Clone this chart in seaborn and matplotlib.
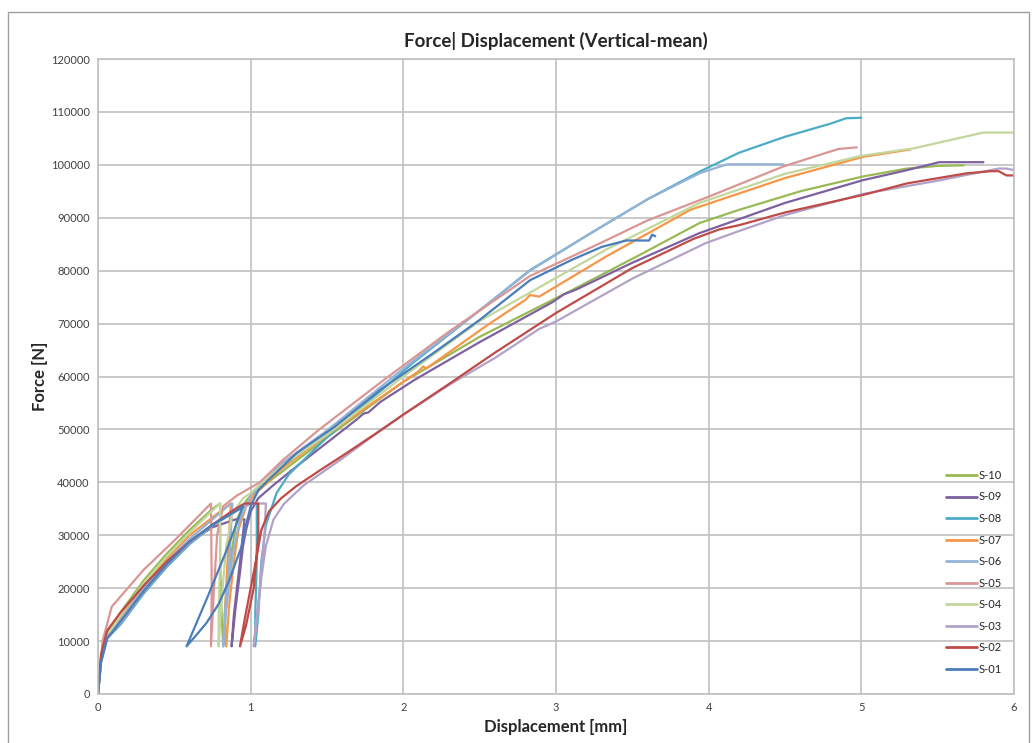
import matplotlib
matplotlib.use("Agg")
import matplotlib.pyplot as plt
import seaborn as sns
import pandas as pd
from matplotlib.patches import Rectangle

# ---- data (displacement mm, force N) ----
s01_x = [0, 0.02, 0.06, 0.15, 0.3, 0.45, 0.6, 0.75, 0.9, 0.95,
         0.84, 0.72, 0.58,
         0.64, 0.71, 0.79, 0.86, 0.91, 0.94, 0.97, 1.0, 1.05, 1.1, 1.3, 1.55, 1.85, 2.2, 2.5, 2.83, 3.1, 3.3, 3.46, 3.61, 3.63, 3.65]
s01_y = [0, 6000, 10500, 13800, 19500, 24500, 28800, 32000, 34500, 35500,
         27000, 18500, 9000,
         11000, 13400, 17000, 21500, 25500, 27800, 32000, 35500, 38500, 40000, 45500, 50500, 57500, 64500, 70700, 78200, 82000, 84500, 85700, 85700, 86800, 86500]

s02_x = [0, 0.02, 0.06, 0.15, 0.3, 0.45, 0.6, 0.75, 0.9, 0.96, 1.05,
         1.05, 1.02, 0.97, 0.93,
         0.96, 1.0, 1.04, 1.07, 1.12, 1.2, 1.3, 1.45, 1.6, 1.85, 2.0, 2.31, 2.6, 3.0, 3.5, 3.9, 4.07, 4.2, 4.5, 5.01, 5.3, 5.69, 5.85, 5.9, 5.95, 6.0]
s02_y = [0, 7500, 12000, 15500, 20500, 25000, 28800, 32000, 35000, 36000, 36000,
         30000, 20000, 13000, 9000,
         14000, 20000, 26000, 31000, 34500, 37000, 39300, 42200, 45000, 49800, 52800, 58800, 64500, 72000, 80500, 86000, 87800, 88600, 91000, 94300, 96500, 98400, 98800, 98800, 98000, 98000]

s03_x = [0, 0.02, 0.06, 0.15, 0.3, 0.45, 0.6, 0.75, 0.9, 1.0, 1.1,
         1.09, 1.06, 1.03, 1.02,
         1.04, 1.07, 1.1, 1.15, 1.22, 1.35, 1.6, 1.85, 2.0, 2.31, 2.6, 2.89, 3.0, 3.5, 3.98, 4.2, 4.5, 5.01, 5.5, 5.9, 5.95, 6.0]
s03_y = [0, 6500, 10800, 13500, 19300, 24300, 28500, 32000, 34800, 36000, 36000,
         30000, 20000, 12000, 9000,
         14000, 22000, 28000, 33000, 36000, 39500, 44500, 49800, 52800, 58600, 63500, 69000, 70400, 78500, 85200, 87500, 90500, 94500, 97000, 99300, 99300, 99000]

s04_x = [0, 0.02, 0.06, 0.15, 0.3, 0.45, 0.6, 0.78, 0.8,
         0.8, 0.79, 0.79,
         0.81, 0.84, 0.88, 0.95, 1.0, 1.2, 1.5, 2.0, 2.5, 2.9, 3.33, 3.94, 4.5, 5.0, 5.34, 5.6, 5.8, 6.0]
s04_y = [0, 7000, 11000, 15000, 21000, 26000, 30500, 35500, 36000,
         25000, 15000, 9000,
         18000, 28000, 34000, 37000, 38000, 43000, 49000, 60000, 70500, 77000, 84000, 92800, 98300, 101700, 103100, 104800, 106100, 106100]

s05_x = [0, 0.03, 0.09, 0.3, 0.5, 0.74,
         0.745, 0.74,
         0.76, 0.78, 0.82, 0.91, 1.06, 1.21, 1.45, 1.87, 2.3, 2.83, 3.29, 3.6, 4.01, 4.49, 4.85, 4.97]
s05_y = [0, 10000, 16500, 23500, 29000, 36000,
         20000, 9000,
         20000, 30000, 35500, 37500, 40000, 44200, 50000, 59300, 68500, 79000, 85200, 89500, 94100, 99700, 103000, 103300]

s06_x = [0, 0.02, 0.06, 0.15, 0.3, 0.45, 0.6, 0.75, 0.85, 0.88,
         0.86, 0.83, 0.82,
         0.84, 0.88, 0.93, 1.0, 1.2, 1.5, 2.0, 2.5, 2.83, 3.24, 3.6, 3.94, 4.12, 4.49]
s06_y = [0, 6500, 10800, 14000, 20000, 25000, 29300, 33000, 35500, 36000,
         25000, 15000, 9000,
         16000, 26000, 33000, 37500, 43500, 49800, 61500, 72500, 80000, 87300, 93500, 98400, 100100, 100100]

s07_x = [0, 0.02, 0.06, 0.15, 0.3, 0.45, 0.6, 0.8, 0.87,
         0.85, 0.83, 0.84,
         0.86, 0.89, 0.92, 0.97, 1.02, 1.2, 1.55, 1.8, 2.1, 2.13, 2.15, 2.55, 2.8, 2.83, 2.89, 3.33, 3.88, 4.5, 5.01, 5.32]
s07_y = [0, 6800, 11000, 14800, 20500, 25500, 30000, 34500, 36000,
         26000, 15000, 9000,
         17000, 25000, 31000, 35500, 37500, 42500, 50000, 55000, 61000, 61900, 61500, 69700, 74500, 75400, 75100, 82700, 91500, 97500, 101500, 102900]

s08_x = [0, 0.02, 0.06, 0.15, 0.3, 0.45, 0.6, 0.75, 0.9, 1.0, 1.04,
         1.04, 1.03, 1.03,
         1.05, 1.07, 1.1, 1.17, 1.25, 1.5, 2.06, 2.5, 2.83, 3.24, 3.6, 3.94, 4.2, 4.5, 4.8, 4.9, 5.0]
s08_y = [0, 6000, 10500, 13200, 19000, 24000, 28300, 31800, 34500, 36000, 36000,
         25000, 15000, 9000,
         15000, 25000, 32000, 38000, 41500, 48500, 62500, 72500, 80100, 87300, 93500, 98700, 102300, 105300, 107800, 108800, 108900]

s09_x = [0, 0.02, 0.06, 0.15, 0.3, 0.45, 0.6, 0.75, 0.9, 0.96,
         0.93, 0.89, 0.875,
         0.9, 0.93, 0.95, 0.97, 1.0, 1.05, 1.15, 1.3, 1.5, 1.7, 1.74, 1.77, 1.85, 2.07, 2.5, 2.98, 3.05, 3.13, 3.5, 3.94, 4.5, 5.01, 5.3, 5.51, 5.8]
s09_y = [0, 6500, 10800, 14000, 19800, 24800, 28800, 31500, 33000, 33000,
         25000, 15000, 9000,
         16000, 23000, 28000, 31000, 34500, 37000, 39500, 43000, 47500, 52000, 53000, 53200, 55200, 59300, 66500, 74100, 75500, 76400, 81500, 87100, 92800, 97100, 99000, 100500, 100500]

s10_x = [0, 0.02, 0.06, 0.15, 0.3, 0.45, 0.6, 0.75, 0.8,
         0.8, 0.81, 0.82,
         0.84, 0.87, 0.91, 0.97, 1.0, 1.5, 2.0, 2.5, 3.11, 3.55, 3.94, 4.2, 4.6, 5.01, 5.3, 5.5, 5.67]
s10_y = [0, 7000, 11500, 15500, 21500, 26500, 31000, 35000, 36000,
         25000, 15000, 9000,
         17000, 26000, 33000, 36500, 37500, 48500, 59000, 67500, 76400, 83000, 89000, 91500, 95000, 97800, 99300, 99800, 99900]

series_names = ["S-10", "S-09", "S-08", "S-07", "S-06", "S-05", "S-04", "S-03", "S-02", "S-01"]
series_x = [s10_x, s09_x, s08_x, s07_x, s06_x, s05_x, s04_x, s03_x, s02_x, s01_x]
series_y = [s10_y, s09_y, s08_y, s07_y, s06_y, s05_y, s04_y, s03_y, s02_y, s01_y]
colors = ["#98B954", "#7D60A0", "#4BACC6", "#F79646", "#95B3D7",
          "#D99694", "#C3D69B", "#B3A2C7", "#BE4B48", "#4A7EBB"]

x_ticks = [0, 1, 2, 3, 4, 5, 6]
y_ticks = list(range(0, 120001, 10000))

rows = []
for name, xs, ys in zip(series_names, series_x, series_y):
    for i, (a, b) in enumerate(zip(xs, ys)):
        rows.append({"series": name, "order": i, "x": a, "y": b})
df = pd.DataFrame(rows)

sns.set_style("white")
plt.rcParams['font.family'] = ['Lato', 'DejaVu Sans']

fig = plt.figure(figsize=(10.34, 7.43), dpi=100)
ax = fig.add_axes([98 / 1034, 1 - 694 / 743, (1014 - 98) / 1034, (694 - 59) / 743])

sns.lineplot(data=df, x="x", y="y", hue="series", hue_order=series_names,
             palette=dict(zip(series_names, colors)), sort=False, estimator=None,
             linewidth=1.6, ax=ax, legend=True)

ax.set_xlim(0, 6)
ax.set_ylim(0, 120000)
ax.set_xticks(x_ticks)
ax.set_yticks(y_ticks)
ax.set_xticklabels([str(t) for t in x_ticks], fontsize=8, color="#404040")
ax.set_yticklabels([str(t) for t in y_ticks], fontsize=8, color="#404040")
ax.tick_params(length=0, pad=6)
ax.grid(True, color="#C0C0C0", linewidth=1.2)
ax.set_axisbelow(True)
for s in ax.spines.values():
    s.set_color("#C0C0C0")
    s.set_linewidth(1.2)

ax.set_xlabel("Displacement [mm]", fontsize=12, fontweight="bold", labelpad=4)
ax.set_ylabel("Force [N]", fontsize=12, fontweight="bold", labelpad=2)
ax.set_title("Force| Displacement (Vertical-mean)", fontsize=13.5, fontweight="bold", pad=9)

leg = ax.legend(loc="upper left", bbox_to_anchor=(0.921, 0.360), frameon=False,
                fontsize=8, handlelength=2.8, handletextpad=0.15, labelspacing=0.95,
                borderaxespad=0)
for line in leg.get_lines():
    line.set_linewidth(2)

fig.patches.append(Rectangle((8 / 1034, -0.01), 1021 / 1034, 1 - 12 / 743 + 0.01,
                             transform=fig.transFigure, fill=False,
                             edgecolor="#A0A0A0", linewidth=1.0))

fig.savefig("out.png", dpi=100)
